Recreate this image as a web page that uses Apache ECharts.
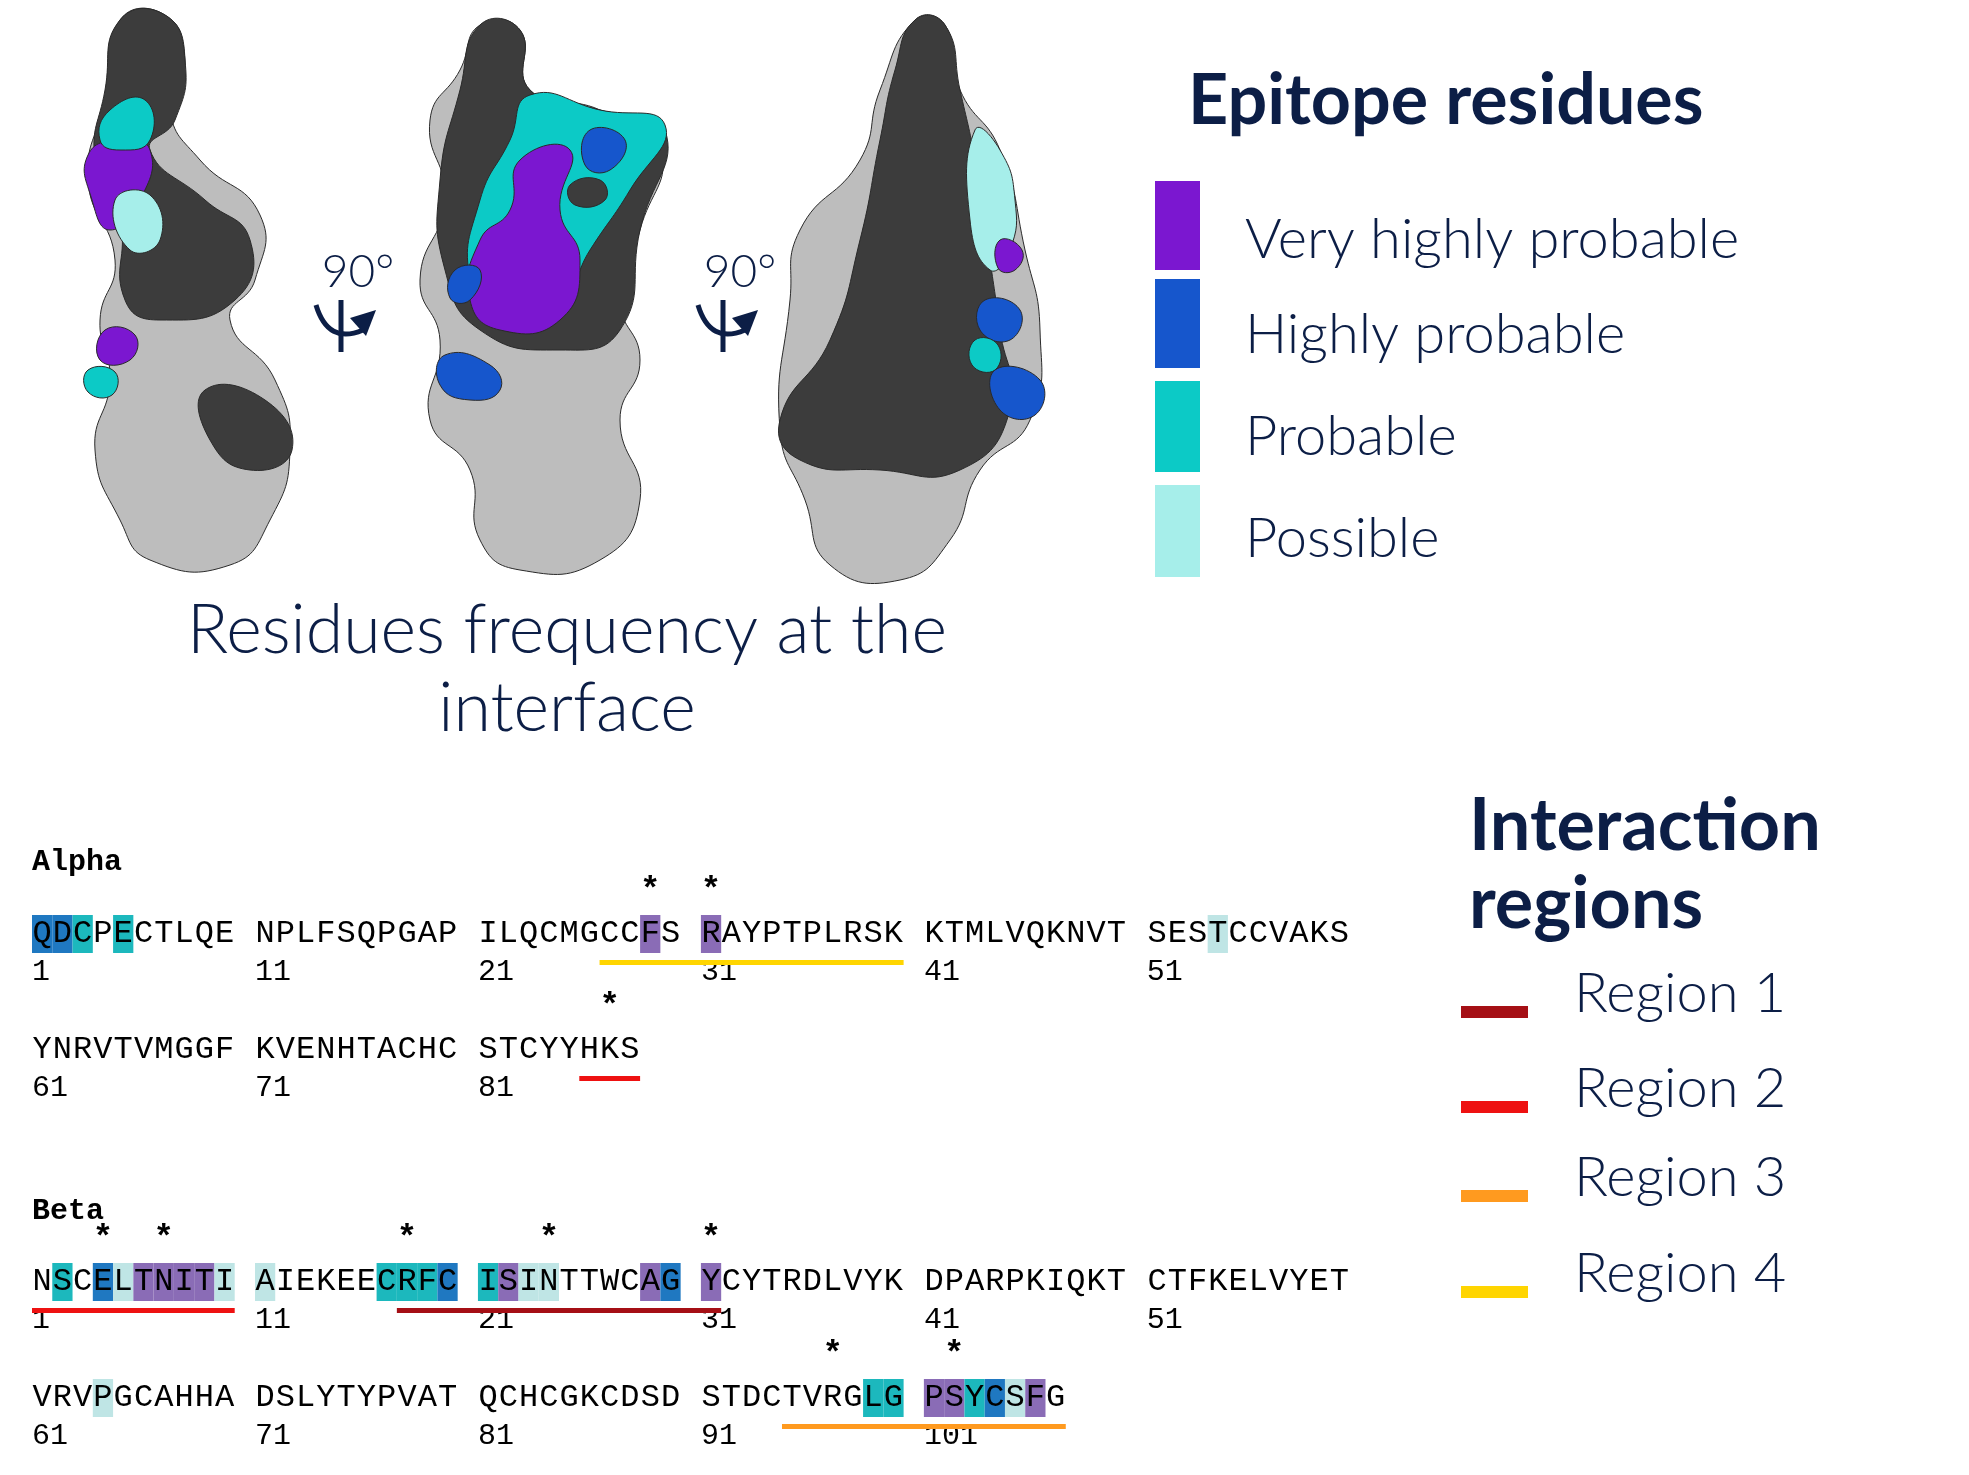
<!DOCTYPE html>
<html><head><meta charset="utf-8">
<script src="https://cdn.jsdelivr.net/npm/echarts@6/dist/echarts.min.js"></script>
<style>html,body{margin:0;padding:0;background:#fff}#c{width:1969px;height:1475px}</style>
</head><body><div id="c"></div>
<script>
// ---- data ----
const alphaSeq = "QDCPECTLQENPLFSQPGAPILQCMGCCFSRAYPTPLRSKKTMLVQKNVTSESTCCVAKSYNRVTVMGGFKVENHTACHCSTCYYHKS";
const betaSeq  = "NSCELTNITIAIEKEECRFCISINTTWCAGYCYTRDLVYKDPARPKIQKTCTFKELVYETVRVPGCAHHADSLYTYPVATQCHCGKCDSDSTDCTVRGLGPSYCSFG";
// class: 1 very highly, 2 highly, 3 probable, 4 possible
const alphaHL = [[1,2],[2,2],[3,3],[5,3],[29,1],[31,1],[54,4]];
const betaHL  = [[2,3],[4,2],[5,4],[6,1],[7,1],[8,1],[9,1],[10,4],[11,4],[17,3],[18,3],[19,3],[20,2],[21,3],[22,1],[23,4],[24,4],[29,1],[30,2],[31,1],[64,4],[99,3],[100,3],[101,1],[102,1],[103,3],[104,2],[105,4],[106,1]];
const alphaStars = [29,31,87];
const betaStars  = [4,7,18,24,31,97,102];
// [chain, start, end, region]
const regions = [["alpha",27,40,4],["alpha",86,88,2],["beta",1,10,2],["beta",18,31,1],["beta",95,107,3]];
const legendEpitope = ["Very highly probable","Highly probable","Probable","Possible"];
const legendRegions = ["Region 1","Region 2","Region 3","Region 4"];

const hlColors = {1:"#8a6cb6",2:"#1f78c1",3:"#1cb8bd",4:"#bfe5e5"};
const epColors = ["#7b17d0","#1656cc","#0ccac6","#a6eeea"];
const regColors = {1:"#a50f15",2:"#ee1111",3:"#ff9a1f",4:"#ffd500"};
const navy = "#0c1e46";
const chainLine = {alpha:0, beta:12};

function colOf(i){const k=(i-1)%60;return k+Math.floor(k/10);}
function lineOf(chain,i){return chainLine[chain]+4*Math.floor((i-1)/60);}

const residues=[];
[["alpha",alphaSeq,alphaHL],["beta",betaSeq,betaHL]].forEach(([ch,seq,hl])=>{
  const m={};hl.forEach(([p,c])=>m[p]=c);
  for(let i=1;i<=seq.length;i++) residues.push([colOf(i),lineOf(ch,i),seq[i-1],m[i]||0]);
});
const numbers=[];
[["alpha",alphaSeq],["beta",betaSeq]].forEach(([ch,seq])=>{
  for(let i=1;i<=seq.length;i+=10) numbers.push([colOf(i),lineOf(ch,i),String(i)]);
});
const stars=[];
alphaStars.forEach(i=>stars.push([colOf(i),lineOf("alpha",i)]));
betaStars.forEach(i=>stars.push([colOf(i),lineOf("beta",i)]));
const underl=regions.map(([ch,s,e,r])=>[colOf(s),colOf(e)+1,lineOf(ch,s),r]);

const mono="'Liberation Mono','DejaVu Sans Mono',monospace";
const chart=echarts.init(document.getElementById('c'));

// protein illustration shapes
function poly(pts,fill){return {type:'polygon',shape:{points:pts,smooth:0.5},style:{fill:fill,stroke:'#2a2a2a',lineWidth:1}};}
const G=[];
// structure 1
G.push(poly([[120,20],[165,15],[185,60],[170,110],[200,160],[260,215],[255,280],[230,320],[275,380],[290,450],[270,520],[230,565],[150,560],[120,520],[95,450],[110,380],[100,320],[115,260],[88,180],[105,100]],'#bdbdbd'));
G.push(poly([[120,20],[165,15],[185,60],[175,120],[150,150],[205,200],[250,240],[235,300],[160,320],[125,300],[120,220],[95,160],[105,90]],'#3c3c3c'));
G.push(poly([[205,390],[265,400],[292,450],[250,470],[210,440]],'#3c3c3c'));
G.push(poly([[88,155],[120,140],[150,150],[140,200],[110,230],[92,200]],'#7b17d0'));
G.push(poly([[110,110],[145,100],[150,140],[120,150],[100,140]],'#0ccac6'));
G.push(poly([[115,200],[150,195],[160,240],[130,250]],'#a6eeea'));
G.push(poly([[105,330],[135,335],[130,360],[100,360]],'#7b17d0'));
G.push(poly([[88,370],[115,372],[112,395],[88,392]],'#0ccac6'));
// structure 2
G.push(poly([[480,25],[520,30],[530,90],[600,110],[660,150],[640,230],[620,300],[640,360],[620,420],[640,500],[600,560],[520,570],[480,540],[470,470],[430,420],[440,340],[420,280],[445,200],[430,120],[460,70]],'#bdbdbd'));
G.push(poly([[480,25],[520,30],[530,90],[600,110],[665,130],[640,230],[620,330],[560,350],[480,330],[445,270],[440,180],[460,90]],'#3c3c3c'));
G.push(poly([[530,95],[600,110],[665,125],[630,190],[590,250],[560,300],[500,320],[470,280],[480,200],[510,140]],'#0ccac6'));
G.push(poly([[520,160],[570,150],[560,210],[580,260],[560,320],[500,330],[470,300],[480,240],[510,210]],'#7b17d0'));
G.push(poly([[445,355],[490,365],[500,390],[470,400],[440,385]],'#1656cc'));
G.push(poly([[590,130],[625,140],[610,170],[585,165]],'#1656cc'));
G.push(poly([[455,270],[480,270],[470,300],[450,298]],'#1656cc'));
G.push(poly([[570,185],[600,180],[605,200],[575,205]],'#3c3c3c'));
// structure 3
G.push(poly([[915,20],[945,25],[960,90],[1000,150],[1025,250],[1040,330],[1030,420],[980,470],[950,540],[900,580],[830,565],[805,500],[780,430],[790,300],[800,230],[860,160],[880,90]],'#bdbdbd'));
G.push(poly([[915,20],[945,25],[960,90],[975,160],[990,260],[1000,330],[1010,410],[960,470],[880,470],[800,460],[780,420],[830,340],[860,240],[880,140],[895,70]],'#3c3c3c'));
G.push(poly([[975,130],[1000,150],[1015,200],[1010,250],[990,270],[970,220]],'#a6eeea'));
G.push(poly([[1000,240],[1022,250],[1015,270],[998,268]],'#7b17d0'));
G.push(poly([[985,300],[1020,310],[1010,340],[980,330]],'#1656cc'));
G.push(poly([[995,370],[1040,380],[1035,415],[1000,410]],'#1656cc'));
G.push(poly([[975,340],[998,345],[995,370],[972,365]],'#0ccac6'));
// rotation arrows + 90°
[338,720].forEach((x)=>{
  G.push({type:'text',style:{text:'90°',x:x+20,y:272,fill:navy,font:'300 46px Lato',textAlign:'center',textVerticalAlign:'middle'}});
  G.push({type:'line',shape:{x1:x+3,y1:300,x2:x+3,y2:352},style:{stroke:navy,lineWidth:5}});
  G.push({type:'bezierCurve',shape:{x1:x-22,y1:305,cpx1:x-10,cpy1:345,x2:x+25,y2:330},style:{stroke:navy,lineWidth:5,fill:null}});
  G.push({type:'polygon',shape:{points:[[x+12,318],[x+38,310],[x+28,336]]},style:{fill:navy}});
});
// titles and legends
G.push({type:'text',style:{text:'Residues frequency at the\ninterface',x:567,y:670,fill:navy,font:'300 68px Lato',textAlign:'center',textVerticalAlign:'middle',lineHeight:78}});
G.push({type:'text',style:{text:'Epitope residues',x:1188,y:101,fill:navy,font:'bold 70px Lato',textVerticalAlign:'middle'}});
const epY=[[181,270],[279,368],[381,472],[485,577]];
legendEpitope.forEach((t,i)=>{
  G.push({type:'rect',shape:{x:1155,y:epY[i][0],width:45,height:epY[i][1]-epY[i][0]},style:{fill:epColors[i]}});
  G.push({type:'text',style:{text:t,x:1245,y:[240,335,437,539][i],fill:navy,font:'300 56px Lato',textVerticalAlign:'middle'}});
});
G.push({type:'text',style:{text:'Interaction\nregions',x:1469,y:866,fill:navy,font:'bold 72px Lato',textVerticalAlign:'middle',lineHeight:78}});
legendRegions.forEach((t,i)=>{
  const y=[1012,1107,1196,1292][i];
  G.push({type:'rect',shape:{x:1461,y:y-6,width:67,height:12},style:{fill:regColors[i+1]}});
  G.push({type:'text',style:{text:t,x:1574,y:y-18,fill:navy,font:'300 56px Lato',textVerticalAlign:'middle'}});
});
G.push({type:'text',style:{text:'Alpha',x:32,y:862,fill:'#000',font:'bold 30px '+mono,textVerticalAlign:'middle'}});
G.push({type:'text',style:{text:'Beta',x:32,y:1211,fill:'#000',font:'bold 30px '+mono,textVerticalAlign:'middle'}});

const CW=20.27;
chart.setOption({
  animation:false,
  graphic:G,
  grid:{left:32,top:818,width:66*CW,height:22*29},
  xAxis:{type:'value',min:0,max:66,show:false},
  yAxis:{type:'value',min:-4,max:18,inverse:true,show:false},
  series:[
    {type:'custom',data:residues,renderItem:(p,api)=>{
      const [x0,y]=api.coord([api.value(0),api.value(1)]);
      const [x1]=api.coord([api.value(0)+1,api.value(1)]);
      const c=residues[p.dataIndex][3];
      const ch=[];
      if(c) ch.push({type:'rect',shape:{x:x0,y:y-19,width:x1-x0,height:38},style:{fill:hlColors[c]}});
      ch.push({type:'text',style:{text:residues[p.dataIndex][2],x:(x0+x1)/2,y:y,fill:'#000',font:'32px '+mono,textAlign:'center',textVerticalAlign:'middle'}});
      return {type:'group',children:ch};
    }},
    {type:'custom',data:numbers,renderItem:(p,api)=>{
      const [x,y]=api.coord([api.value(0),api.value(1)+1.3]);
      return {type:'text',style:{text:numbers[p.dataIndex][2],x:x,y:y,fill:'#000',font:'30px '+mono,textVerticalAlign:'middle'}};
    }},
    {type:'custom',data:stars,renderItem:(p,api)=>{
      const [x,y]=api.coord([api.value(0)+0.5,api.value(1)-1.5]);
      return {type:'text',style:{text:'*',x:x,y:y,fill:'#000',font:'bold 34px '+mono,textAlign:'center',textVerticalAlign:'middle'}};
    }},
    {type:'custom',data:underl,renderItem:(p,api)=>{
      const [x0,y]=api.coord([api.value(0),api.value(2)+0.98]);
      const [x1]=api.coord([api.value(1),api.value(2)]);
      return {type:'rect',shape:{x:x0,y:y-2.5,width:x1-x0,height:5},style:{fill:regColors[underl[p.dataIndex][3]]}};
    }}
  ]
});
</script></body></html>
